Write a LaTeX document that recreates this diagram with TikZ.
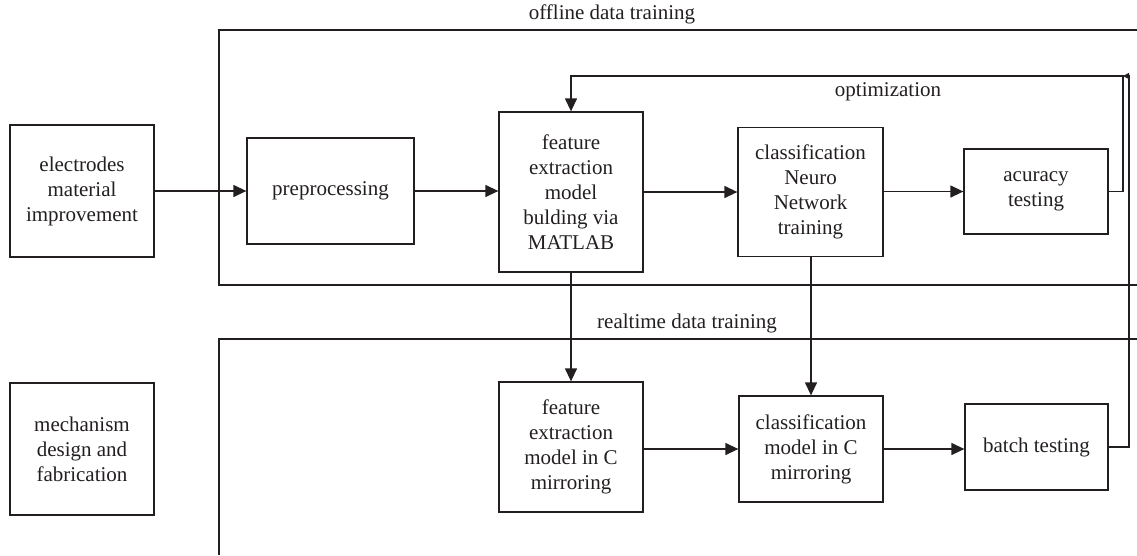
\documentclass[tikz,border=0pt]{standalone}
\usepackage{fontspec}
\setmainfont{Liberation Serif}
\usetikzlibrary{arrows.meta}
\definecolor{ink}{RGB}{35,31,32}

\begin{document}
\begin{tikzpicture}[x=1pt, y=-1pt, ink, line width=1.3pt,
  box/.style={draw, align=center, inner sep=0pt, font=\fontsize{21}{25}\selectfont},
  arr/.style={-{Triangle[length=13pt, width=12pt]}},
  lbl/.style={font=\fontsize{21}{25}\selectfont}]
\useasboundingbox (0,0) rectangle (1137,555);
% frames
\draw (1137,30) -- (219,30) -- (219,285) -- (1137,285);
\draw (1137,339) -- (219,339) -- (219,555);
\node[lbl] (offline) at (612,14) {offline data training};
\node[lbl] (realtime) at (687,323) {realtime data training};
\node[lbl] (optim) at (888,92) {optimization};
% top row
\node[box, minimum width=144pt, minimum height=132pt] (electrodes) at (82,191) {electrodes\\material\\improvement};
\node[box, minimum width=167pt, minimum height=106pt] (prep) at (330.5,191) {preprocessing};
\node[box, minimum width=144pt, minimum height=160pt] (featM) at (571,192) {feature\\extraction\\model\\bulding via\\MATLAB};
\node[box, minimum width=145pt, minimum height=129pt] (classN) at (810.5,192) {classification\\Neuro\\Network\\training};
\node[box, minimum width=144pt, minimum height=85pt] (acc) at (1036,191.5) {acuracy\\testing};
% bottom row
\node[box, minimum width=144pt, minimum height=132pt] (mech) at (82,449) {mechanism\\design and\\fabrication};
\node[box, minimum width=144pt, minimum height=130pt] (featC) at (571,447) {feature\\extraction\\model in C\\mirroring};
\node[box, minimum width=144pt, minimum height=106pt] (classC) at (811,449) {classification\\model in C\\mirroring};
\node[box, minimum width=143pt, minimum height=86pt] (batch) at (1036.5,447) {batch testing};
% connectors
\draw[arr] (electrodes.east |- prep.west) -- (prep.west);
\draw[arr] (prep.east) -- (prep.east -| featM.west);
\draw[arr] (featM.east |- classN.west) -- (classN.west);
\draw[arr] (classN.east |- acc.west) -- (acc.west);
\draw[arr] (featM.south) -- (featC.north);
\draw[arr] (classN.south -| classC.north) -- (classC.north);
\draw[arr] (featC.east |- classC.west) -- (classC.west);
\draw[arr] (classC.east) -- (classC.east -| batch.west);
% feedback loops
\coordinate (optR) at (1123,76);
\coordinate (batR) at (1129,76);
\draw[arr] (acc.east) -| (optR) -| (featM.north);
\draw[-{Triangle[length=6pt, width=6pt]}] (batch.east) -| (batR) -- (optR);
\end{tikzpicture}
\end{document}
